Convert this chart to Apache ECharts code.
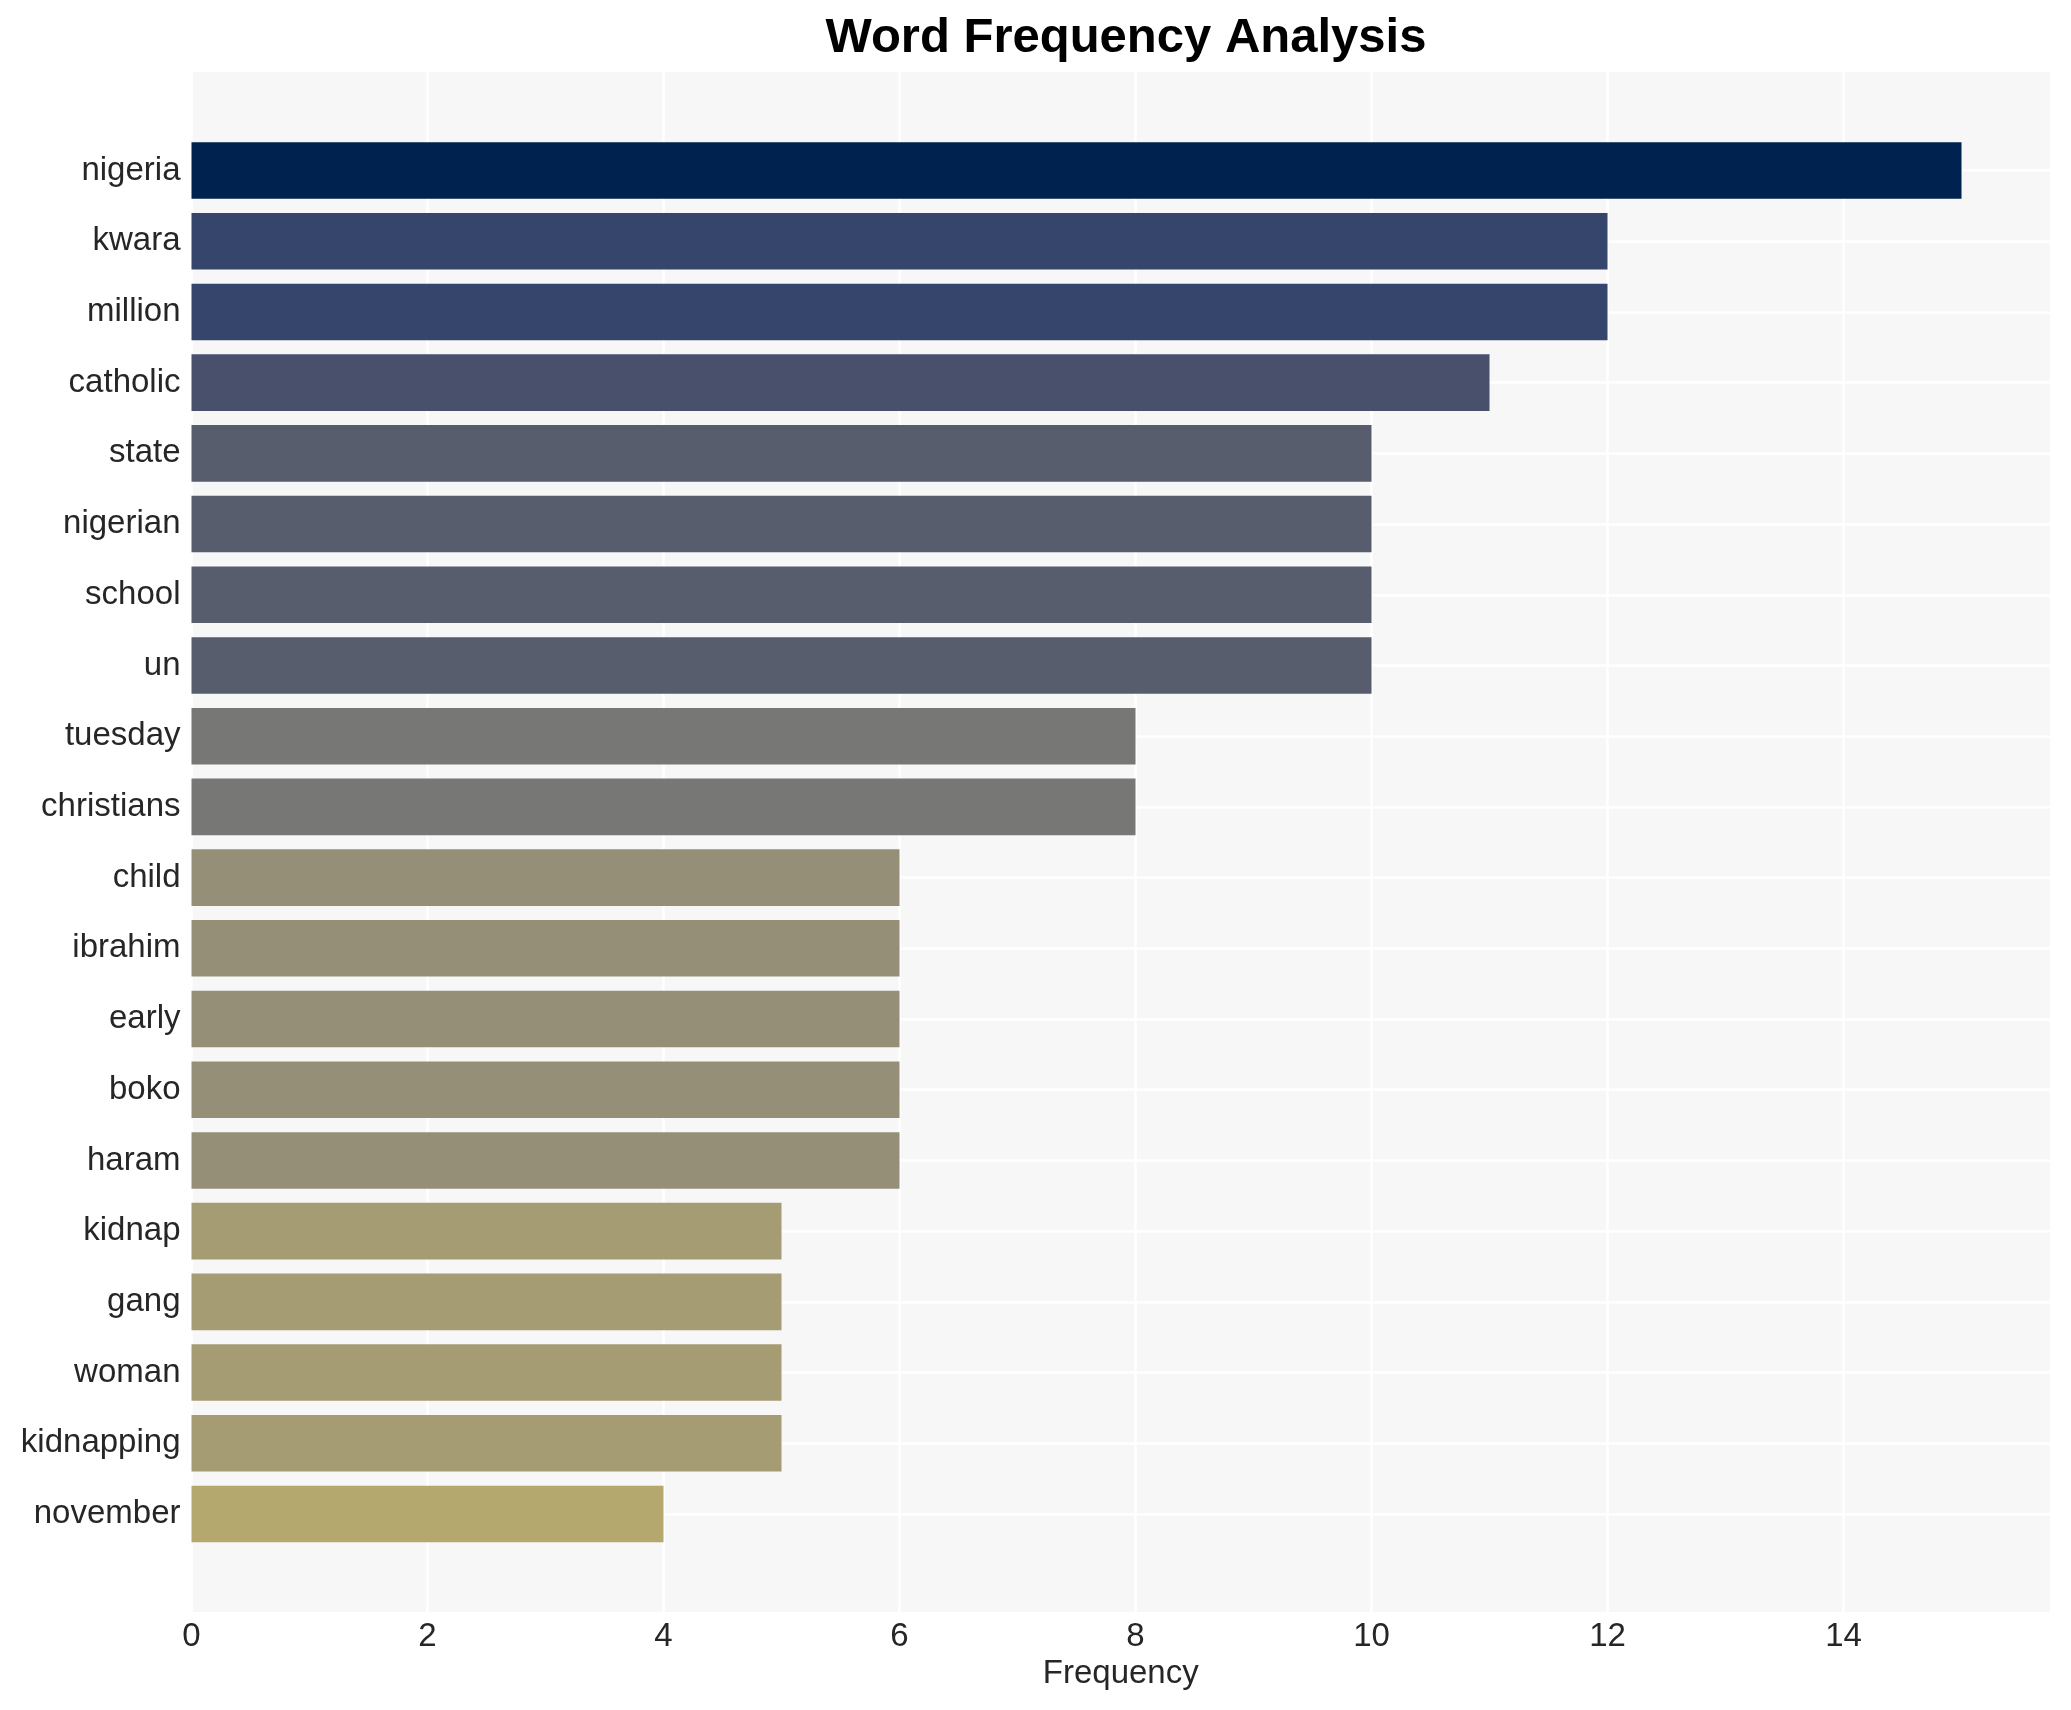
<!DOCTYPE html>
<html><head><meta charset="utf-8">
<script src="https://cdn.jsdelivr.net/npm/echarts@6/dist/echarts.min.js"></script>
<style>html,body{margin:0;padding:0;background:#fff}#c{width:2071px;height:1710px}</style>
</head><body><div id="c"></div>
<script>
const words = ['nigeria','kwara','million','catholic','state','nigerian','school','un','tuesday','christians','child','ibrahim','early','boko','haram','kidnap','gang','woman','kidnapping','november'];
const counts = [15,12,12,11,10,10,10,10,8,8,6,6,6,6,6,5,5,5,5,4];
const xTickStep = 2;
const xMax = 15.75;
const colorByCount = {15:'#00224e',12:'#35456c',11:'#48506b',10:'#575d6d',8:'#777776',6:'#958f78',5:'#a59c74',4:'#b5a86f'};

const FONT = "'Liberation Sans', Arial, sans-serif";
const chart = echarts.init(document.getElementById('c'), null, {renderer:'canvas'});
chart.setOption({
  animation: false,
  backgroundColor: '#ffffff',
  title: {
    text: 'Word Frequency Analysis',
    left: 1121, top: 9, textAlign: 'center',
    textStyle: {fontFamily: FONT, fontSize: 49, fontWeight: 'bold', color: '#000'}
  },
  grid: [
    {left: 191.5, right: 21, top: 72, bottom: 98, show: true, backgroundColor: '#f7f7f7', borderWidth: 0},
    {left: 191.5, right: 21, top: 170.5, bottom: 196, show: false}
  ],
  xAxis: [
    {gridIndex: 0, type: 'value', min: 0, max: xMax, interval: xTickStep,
     axisLine: {show: false}, axisTick: {show: false},
     splitLine: {show: true, showMaxLine: false, lineStyle: {color: '#ffffff', width: 2.5}},
     axisLabel: {showMaxLabel: false, fontFamily: FONT, fontSize: 33, color: '#262626', margin: 8},
     name: 'Frequency', nameLocation: 'middle', nameGap: 41,
     nameTextStyle: {fontFamily: FONT, fontSize: 33, color: '#262626'}},
    {gridIndex: 1, type: 'value', min: 0, max: xMax, show: false}
  ],
  yAxis: [
    {gridIndex: 0, type: 'value', show: false},
    {gridIndex: 1, type: 'category', data: words, inverse: true, boundaryGap: false,
     axisLine: {show: false}, axisTick: {show: false},
     splitLine: {show: true, interval: 0, lineStyle: {color: '#ffffff', width: 2.5}},
     axisLabel: {interval: 0, fontFamily: FONT, fontSize: 33, color: '#262626', margin: 11, padding: [4, 0, 0, 0]}}
  ],
  series: [{
    type: 'bar', xAxisIndex: 1, yAxisIndex: 1, barWidth: '80%', clip: false,
    data: counts.map(v => ({value: v, itemStyle: {color: colorByCount[v]}}))
  }]
});
</script></body></html>
